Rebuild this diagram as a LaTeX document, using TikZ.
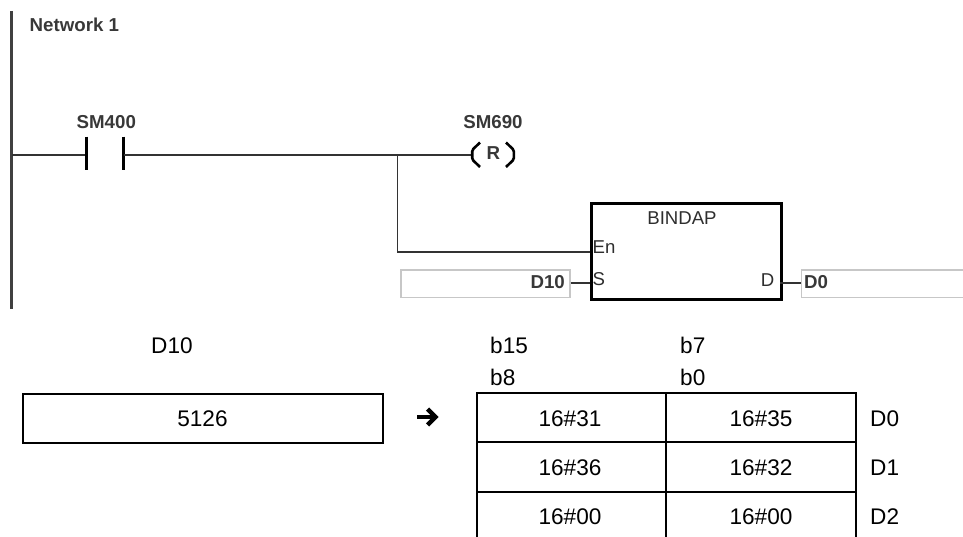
\documentclass[tikz,border=0pt]{standalone}
\usepackage{fontspec}
\setmainfont{Liberation Sans}
\tikzset{
  x=1pt,y=-1pt,
  rung/.style={draw=black!80,line width=1.8pt},
  rail/.style={draw=black!75,line width=2.8pt},
  contactbar/.style={draw=black,line width=2.6pt},
  coilarc/.style={draw=black,line width=2.6pt,line join=round,rounded corners=1.5pt},
  fblock/.style={draw=black,line width=3pt,fill=white,inner sep=0pt,anchor=north west},
  operand/.style={draw=black!22,line width=1.2pt,inner sep=0pt,anchor=north west},
  ladder/.style={font=\fontsize{18.7}{20}\selectfont\bfseries,text=black!78,inner sep=0pt},
  pin/.style={font=\fontsize{18.6}{20}\selectfont,text=black!82,inner sep=0pt},
  body/.style={font=\fontsize{22.6}{24}\selectfont,text=black,inner sep=0pt},
  cellline/.style={draw=black,line width=2pt},
  arrowshaft/.style={draw=black,line width=4pt},
  arrowhead/.style={draw=black,line width=4.4pt,line join=miter}
}
\begin{document}
\begin{tikzpicture}
\useasboundingbox (0,0) rectangle (963,537);
% rail
\coordinate (railtop) at (11.7,11);
\coordinate (railbot) at (11.7,308.5);
\draw[rail] (railtop) -- (railbot);
\node[ladder,anchor=west] (net) at (29.5,25) {Network 1};
% contact
\node[ladder] (sm400) at (106.3,121.7) {SM400};
\coordinate (railjoin) at (11.7,155);
\coordinate (cl) at (86.7,155);
\coordinate (cr) at (123.7,155);
\coordinate (branch) at (397.5,155);
\coordinate (coilin) at (471,155);
\draw[rung] (railjoin) -- (cl);
\draw[contactbar] (86.7,136.7) -- (86.7,170);
\draw[contactbar] (123.7,136.7) -- (123.7,170);
\draw[rung] (cr) -- (branch) -- (coilin);
% coil
\node[ladder] (sm690) at (493,121.7) {SM690};
\node[ladder] (rcoil) at (493.3,153.5) {R};
\draw[coilarc] (480,142.5) -- (472.2,150) -- (472.2,159.5) -- (480,167);
\draw[coilarc] (506,142.5) -- (513.8,150) -- (513.8,159.5) -- (506,167);
% block
\node[fblock,minimum width=190.5pt,minimum height=95pt] (blk) at (589.7,202.5) {};
\node[pin] (title) at (682,218.3) {BINDAP};
\node[pin,anchor=west] (en) at (592.5,247.3) {En};
\node[pin,anchor=west] (s) at (592.5,279.5) {S};
\node[pin,anchor=east] (d) at (774.5,280) {D};
\coordinate (enjoin) at (397.5,251.7);
\coordinate (enpin) at (589.7,251.7);
\draw[rung] (branch) -- (enjoin) -- (enpin);
% operands
\node[operand,minimum width=169pt,minimum height=27.4pt] (opS) at (400.4,269.3) {};
\node[ladder,anchor=east] (d10) at (565,282.5) {D10};
\coordinate (spin) at (589.7,283);
\draw[rung] (opS.east |- spin) -- (spin);
\node[operand,minimum width=170pt,minimum height=27.4pt] (opD) at (801.2,269.3) {};
\node[ladder,anchor=west] (d0) at (804,282.5) {D0};
\coordinate (dpin) at (780.2,283);
\draw[rung] (dpin) -- (opD.west |- dpin);
% lower part
\node[body,anchor=west] (lD10) at (151,345.7) {D10};
\node[body,anchor=west] (b15) at (490,345.7) {b15};
\node[body,anchor=west] (b7) at (680,345.7) {b7};
\node[body,anchor=west] (b8) at (490,377.5) {b8};
\node[body,anchor=west] (b0) at (680,377.5) {b0};
\node[body,draw=black,line width=2pt,anchor=north west,minimum width=360pt,minimum height=49.4pt] (src) at (21.5,392.8) {5126};
\draw[arrowshaft] (417.3,417) -- (434,417);
\draw[arrowhead] (427.5,409) -- (435.5,417) -- (427.5,425);
\draw[cellline] (476.5,537) -- (476.5,393) -- (855.5,393) -- (855.5,537);
\draw[cellline] (665.8,393) -- (665.8,537);
\draw[cellline] (476.5,442) -- (855.5,442);
\draw[cellline] (476.5,491.5) -- (855.5,491.5);
\node[body] (a1) at (570,418.5) {16\#31};
\node[body] (b1) at (761,418.5) {16\#35};
\node[body] (a2) at (570,467.5) {16\#36};
\node[body] (b2) at (761,467.5) {16\#32};
\node[body] (a3) at (570,517) {16\#00};
\node[body] (b3) at (761,517) {16\#00};
\node[body,anchor=west] (r1) at (870,418.5) {D0};
\node[body,anchor=west] (r2) at (870,467.5) {D1};
\node[body,anchor=west] (r3) at (870,517) {D2};
\end{tikzpicture}
\end{document}
